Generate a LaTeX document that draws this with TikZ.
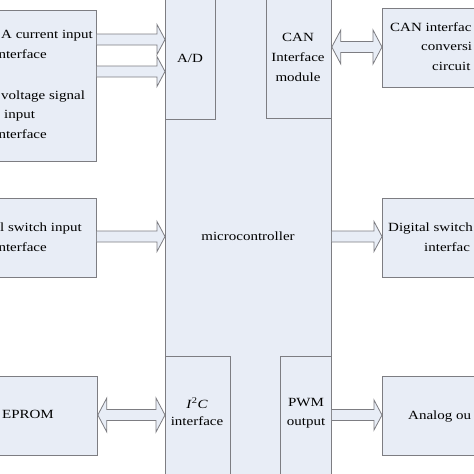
\documentclass[tikz,border=0pt]{standalone}
\usepackage{fontspec}
\setmainfont[FakeStretch=1.2]{Liberation Serif}
\usetikzlibrary{calc}

\definecolor{boxfill}{RGB}{232,237,246}
\definecolor{boxline}{RGB}{125,125,130}

\tikzset{
    box/.style={draw=boxline, fill=boxfill, line width=0.8pt, anchor=north west, inner sep=0pt},
    fat/.style={draw=boxline, fill=boxfill, line width=0.8pt, line join=miter},
    txt/.style={inner sep=0pt, font=\fontsize{12.5}{20}\selectfont},
}

% block arrow: #1 tail, #2 tip
\newcommand{\fatarrow}[2]{%
    \draw[fat] ($(#1)+(0,-5.5)$) -- ($(#2)+(-8,-5.5)$) -- ($(#2)+(-8,-15)$) -- (#2)
        -- ($(#2)+(-8,15)$) -- ($(#2)+(-8,5.5)$) -- ($(#1)+(0,5.5)$);}
% block arrow with two heads
\newcommand{\fatdarrow}[2]{%
    \draw[fat] (#1) -- ($(#1)+(9,-17)$) -- ($(#1)+(9,-5.5)$) -- ($(#2)+(-9,-5.5)$)
        -- ($(#2)+(-9,-17)$) -- (#2) -- ($(#2)+(-9,17)$) -- ($(#2)+(-9,5.5)$)
        -- ($(#1)+(9,5.5)$) -- ($(#1)+(9,17)$) -- cycle;}

\begin{document}
\begin{tikzpicture}[x=1pt, y=-1pt]
    \useasboundingbox (0,0) rectangle (474,474);
    \clip (0,0) rectangle (474,474);

    % microcontroller and its inner modules
    \node[box, minimum width=166, minimum height=500] (mcu) at (165,-10) {};
    \node[box, minimum width=50, minimum height=129] (ad) at (165,-10) {};
    \node[box, minimum width=65, minimum height=128] (can) at (266,-10) {};
    \node[box, minimum width=65, minimum height=134] (i2c) at (165,356) {};
    \node[box, minimum width=51, minimum height=134] (pwm) at (280,356) {};

    % outer blocks
    \node[box, minimum width=106, minimum height=151] (in1) at (-10,10) {};
    \node[box, minimum width=106, minimum height=79] (in2) at (-10,198) {};
    \node[box, minimum width=107, minimum height=79] (eprom) at (-10,376) {};
    \node[box, minimum width=108, minimum height=79] (out1) at (382,8) {};
    \node[box, minimum width=108, minimum height=79] (out2) at (382,198) {};
    \node[box, minimum width=108, minimum height=79] (out3) at (382,376) {};

    % connectors
    \coordinate (c1a) at (in1.east |- 0,39.5);
    \coordinate (c1b) at (ad.west |- 0,39.5);
    \coordinate (c2a) at (in1.east |- 0,71.5);
    \coordinate (c2b) at (ad.west |- 0,71.5);
    \coordinate (c3a) at (in2.east |- 0,236.5);
    \coordinate (c3b) at (mcu.west |- 0,236.5);
    \coordinate (c4a) at (eprom.east |- 0,415);
    \coordinate (c4b) at (i2c.west |- 0,415);
    \coordinate (c5a) at (can.east |- 0,47);
    \coordinate (c5b) at (out1.west |- 0,47);
    \coordinate (c6a) at (mcu.east |- 0,236.5);
    \coordinate (c6b) at (out2.west |- 0,236.5);
    \coordinate (c7a) at (pwm.east |- 0,415);
    \coordinate (c7b) at (out3.west |- 0,415);
    \fatarrow{c1a}{c1b}
    \fatarrow{c2a}{c2b}
    \fatarrow{c3a}{c3b}
    \fatdarrow{c4a}{c4b}
    \fatdarrow{c5a}{c5b}
    \fatarrow{c6a}{c6b}
    \fatarrow{c7a}{c7b}

    % texts
    \node[txt] (tad) at (190,58) {A/D};
    \node[txt, align=center] (tcan) at (298,57) {CAN\\Interface\\module};
    \node[txt] (tmcu) at (248,236) {microcontroller};
    \node[txt, align=center, font=\fontsize{12.5}{17}\selectfont] (ti2c) at (197,411.5) {\textit{I}\textsuperscript{2}\textit{C}\\interface};
    \node[txt, align=center, font=\fontsize{12.5}{19}\selectfont] (tpwm) at (306,413.5) {PWM\\output};

    \node[txt, anchor=base west] (tin1a) at (1,38.5) {A current input};
    \node[txt, anchor=base east] (tin1b) at (47,58.5) {nterface};
    \node[txt, anchor=base west] (tin1c) at (1,99.5) {voltage signal};
    \node[txt, anchor=base] (tin1d) at (19.5,118.5) {input};
    \node[txt, anchor=base east] (tin1e) at (47,138.5) {nterface};
    \node[txt, anchor=base east] (tin2a) at (82,231.5) {l switch input};
    \node[txt, anchor=base east] (tin2b) at (47,251.5) {nterface};
    \node[txt, anchor=base east] (tep) at (54,418.5) {EPROM};

    \node[txt, anchor=base west] (to1a) at (390,31.5) {CAN interfac};
    \node[txt, anchor=base west] (to1b) at (421,50.5) {conversi};
    \node[txt, anchor=base west] (to1c) at (432,70.5) {circuit};
    \node[txt, anchor=base west] (to2a) at (388,231.5) {Digital switch};
    \node[txt, anchor=base west] (to2b) at (424,251.5) {interfac};
    \node[txt, anchor=base west] (to3) at (408,419.5) {Analog ou};
\end{tikzpicture}
\end{document}
